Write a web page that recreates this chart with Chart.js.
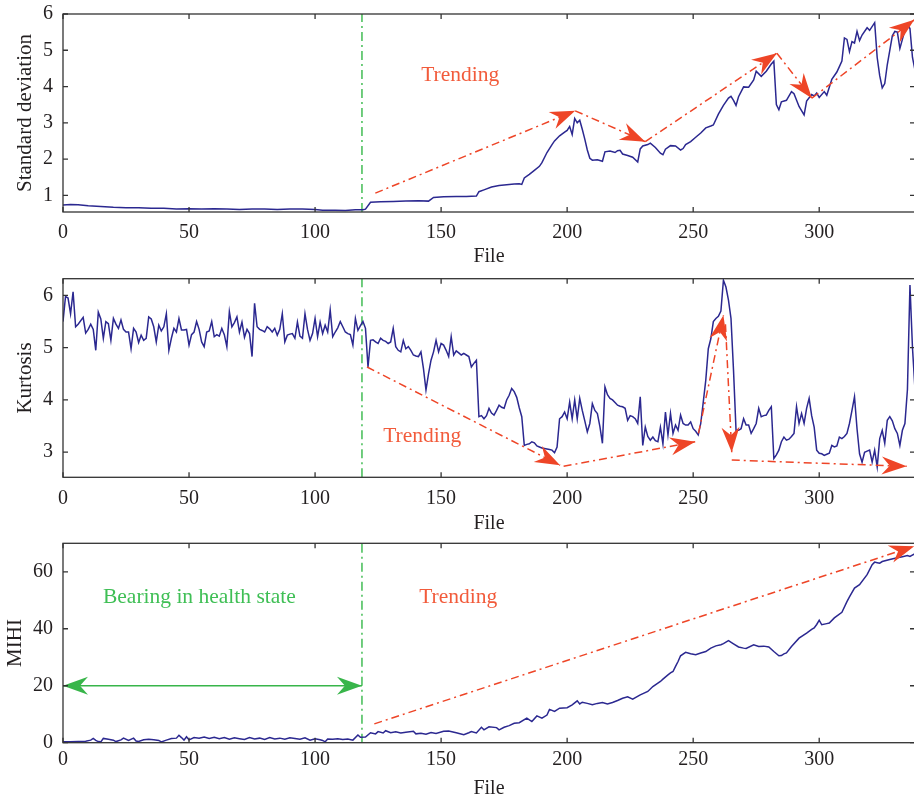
<!DOCTYPE html>
<html><head><meta charset="utf-8">
<script src="https://cdn.jsdelivr.net/npm/chart.js@4.4.1/dist/chart.umd.min.js"></script>
<style>
html,body{margin:0;padding:0;overflow:hidden;background:#fff;width:914px;height:806px;position:relative;}
canvas{position:absolute;left:0;}
</style></head><body>
<canvas id="c1" width="916" height="270" style="top:0px"></canvas>
<canvas id="c2" width="916" height="270" style="top:270px"></canvas>
<canvas id="c3" width="916" height="276" style="top:530px"></canvas>
<script>
// ---------------- data ----------------
const xTicks = [0, 50, 100, 150, 200, 250, 300];
const stdTicks = [1, 2, 3, 4, 5, 6];
const kurtTicks = [3, 4, 5, 6];
const mihiTicks = [0, 20, 40, 60];
const healthEnd = 118.6;

const stdFile = [0,3,6,10,15,20,25,30,35,40,45,50,55,60,65,70,75,80,85,90,95,100,103,108,112,116,119,120,122,126,131,136,141,145,147,151,156,160,164,165,167,170,173,176,179,181,182,183,185,187,189,190,192,194,195,197,199,200,201,202,203,204,205,206,207,208,209,210,212,214,215,217,219,220,221,222,224,226,228,229,230,232,233,235,237,238,239,241,243,245,246,247,249,251,253,255,257,258,260,262,264,265,266,267,268,270,272,274,275,277,279,281,282,283,284,285,287,289,290,292,294,295,297,298,299,300,302,303,305,307,308,309,310,311,312,313,314,315,316,317,319,320,322,323,324,325,326,327,328,329,330,331,332,333,334,335,336,337,338];
const stdValue = [0.73,0.75,0.74,0.71,0.69,0.67,0.66,0.66,0.64,0.64,0.62,0.63,0.62,0.63,0.62,0.61,0.62,0.62,0.61,0.62,0.62,0.61,0.59,0.59,0.58,0.60,0.60,0.62,0.81,0.82,0.83,0.84,0.85,0.84,0.94,0.96,0.97,0.97,0.98,1.10,1.15,1.23,1.27,1.29,1.31,1.32,1.30,1.48,1.58,1.69,1.80,1.90,2.18,2.40,2.50,2.64,2.74,2.79,2.90,2.68,3.12,3.00,3.07,2.82,2.55,2.25,2.02,1.97,1.98,1.94,2.20,2.22,2.18,2.23,2.24,2.14,2.10,2.05,1.92,2.28,2.36,2.40,2.44,2.32,2.16,2.12,2.27,2.37,2.36,2.25,2.29,2.40,2.48,2.60,2.72,2.86,2.91,2.94,3.24,3.48,3.68,3.73,3.62,3.48,3.72,3.99,3.98,4.18,4.42,4.28,4.42,4.62,4.70,3.50,3.36,3.58,3.62,3.86,3.80,3.45,3.22,3.60,3.78,3.74,3.82,3.70,3.86,3.76,4.20,4.40,4.55,4.70,5.34,5.30,4.96,5.24,5.20,5.52,5.27,5.42,5.62,5.55,5.76,4.80,4.30,3.96,4.08,4.60,5.00,5.40,5.52,5.50,5.05,5.30,5.55,5.72,5.60,4.80,4.45];

const kurtFile = [0,1,2,3,4,5,6,8,9,10,11,12,13,14,15,16,17,18,19,20,21,22,23,24,25,26,27,28,29,30,31,32,33,34,35,36,37,38,39,40,41,42,43,44,45,46,47,48,49,50,51,52,53,54,55,56,57,58,59,60,61,62,63,64,65,66,67,68,69,70,71,72,73,74,75,76,77,78,79,80,81,82,83,84,85,86,87,88,89,90,91,92,93,94,95,96,97,98,99,100,101,102,103,104,105,106,107,108,109,110,111,112,113,114,115,116,117,118,119,120,121,122,123,124,125,126,127,128,129,130,131,132,133,134,135,136,137,138,139,140,141,142,143,144,145,146,147,148,149,150,151,152,153,154,155,156,157,158,159,160,161,162,163,164,165,166,167,168,169,170,171,172,173,174,175,176,177,178,179,180,181,182,183,184,185,186,187,188,189,190,191,192,193,194,195,196,197,198,199,200,201,202,203,204,205,206,207,208,209,210,211,212,213,214,215,216,217,218,219,220,221,222,223,224,225,226,227,228,229,230,231,232,233,234,235,236,237,238,239,240,241,242,243,244,245,246,247,248,249,250,251,252,253,254,255,256,257,258,259,260,261,262,263,264,265,266,267,268,269,270,271,272,273,274,275,276,277,278,279,280,281,282,283,284,285,286,287,288,289,290,291,292,293,294,295,296,297,298,299,300,301,302,303,304,305,306,307,308,309,310,311,312,313,314,315,316,317,318,319,320,321,322,323,324,325,326,327,328,329,330,331,332,333,334,335,336,337,338];
const kurtValue = [5.5,5.98,5.95,5.65,6.07,5.4,5.45,5.58,5.28,5.35,5.45,5.35,4.95,5.68,5.55,5.18,5.5,5.46,5.14,5.56,5.45,5.37,5.53,5.35,5.3,5.3,4.98,5.37,5.3,5.1,5.24,5.14,5.18,5.59,5.55,5.4,5.11,5.43,5.32,5.4,5.65,4.95,5.18,5.37,5.3,5.56,5.34,5.34,5.35,5.05,5.25,5.3,5.5,5.35,5.11,5.02,5.3,5.32,5.5,5.21,5.25,5.22,5.37,5.25,5.02,5.69,5.4,5.48,5.59,5.3,5.49,5.2,5.35,5.27,4.83,5.85,5.4,5.35,5.33,5.3,5.4,5.36,5.3,5.37,5.24,5.35,5.65,5.11,5.24,5.26,5.27,5.18,5.49,5.22,5.18,5.65,5.35,5.14,5.27,5.56,5.21,5.49,5.27,5.43,5.3,5.72,5.21,5.3,5.38,5.5,5.4,5.3,5.27,5.25,5.05,5.56,5.33,5.42,5.5,5.37,4.63,5.14,5.15,5.11,5.08,5.18,5.14,5.12,5.08,5.11,5.37,5.02,4.95,4.92,5.14,4.98,5.02,4.95,4.86,4.84,4.83,4.92,4.6,4.19,4.5,4.76,4.92,5.14,4.92,5.08,5.05,4.95,4.83,5.21,4.86,4.94,4.9,4.86,4.89,4.86,4.83,4.63,4.7,4.76,3.68,3.7,3.64,3.7,3.84,3.75,3.71,3.8,3.9,3.86,3.84,4.0,4.09,4.22,4.16,4.05,3.85,3.68,3.13,3.15,3.16,3.2,3.18,3.12,3.1,3.08,3.07,3.06,3.05,3.04,2.99,3.1,3.64,3.68,3.77,3.64,3.96,3.64,4.0,3.64,4.03,3.8,3.6,3.39,3.55,3.93,3.8,3.74,3.49,3.17,4.25,4.1,4.03,4.0,3.95,3.9,3.88,3.87,3.84,3.61,3.7,3.68,3.64,3.55,4.06,3.13,3.48,3.3,3.23,3.29,3.22,3.2,3.48,3.16,3.77,3.33,3.74,3.36,3.52,3.42,3.71,3.55,3.52,3.52,3.58,3.45,3.4,3.33,3.55,3.96,4.38,4.98,5.17,5.5,5.56,5.6,5.7,6.29,6.16,5.91,5.56,4.57,3.42,3.42,3.45,3.64,3.52,3.52,3.36,3.45,3.55,3.84,3.68,3.7,3.71,3.8,3.87,2.88,2.95,3.04,3.2,3.29,3.23,3.25,3.3,3.36,3.87,3.55,3.74,3.55,3.84,4.03,3.7,3.48,3.04,2.98,2.97,2.94,2.96,2.98,3.13,3.1,3.12,3.29,3.26,3.3,3.36,3.55,3.8,4.06,3.45,2.97,2.81,3.0,3.02,3.04,2.81,3.04,2.72,3.26,3.42,3.17,3.61,3.68,3.6,3.45,3.36,3.13,3.42,3.55,4.2,6.2,5.0,4.2];

const mihiFile = [0,3,6,9,11,12,13,14,15,16,18,20,21,23,24,26,28,29,30,32,34,36,38,39,41,43,45,46,47,48,49,50,52,54,56,58,60,62,64,66,68,70,72,74,76,78,80,82,84,86,88,90,92,94,96,98,100,102,103,104,105,107,109,111,113,115,117,118,120,122,124,125,127,128,130,132,134,136,139,140,142,144,146,148,151,153,156,159,161,162,164,166,167,169,172,173,175,177,179,181,184,186,188,190,192,193,195,197,200,202,204,205,206,208,210,212,214,216,218,220,222,224,226,229,232,234,236,237,238,240,241,242,243,244,245,247,249,251,253,255,257,259,261,262,264,266,268,270,271,274,276,278,280,282,284,285,286,287,289,292,295,297,298,299,300,301,303,304,306,309,311,312,314,316,319,321,322,323,324,325,328,331,333,335,336,338];
const mihiValue = [0.35,0.3,0.4,0.5,0.9,1.5,0.8,0.4,0.3,1.5,1.2,0.9,0.4,1.0,1.6,0.8,1.6,0.6,0.4,1.0,1.2,1.0,0.8,0.3,0.9,1.5,1.6,2.6,1.8,0.9,2.1,1.0,1.8,1.6,2.0,1.5,1.9,1.4,1.8,1.2,1.7,1.4,1.1,1.8,1.3,1.6,1.1,1.8,1.3,1.6,1.2,1.7,1.5,1.2,1.7,0.9,1.4,1.0,0.8,0.3,1.3,1.2,1.4,1.1,1.3,0.9,2.7,1.9,2.0,3.5,3.1,3.9,3.4,4.2,3.5,3.8,3.4,3.7,4.0,3.1,3.3,3.0,3.6,3.2,4.0,4.1,3.5,2.8,3.5,3.9,3.4,5.4,4.5,5.6,5.3,4.5,5.4,6.0,6.8,7.0,8.6,7.4,9.4,8.6,9.7,11.7,11.0,12.1,12.3,13.3,14.7,13.6,14.2,13.8,13.3,13.8,14.1,13.6,14.1,14.8,15.6,16.1,15.3,16.8,18.0,19.7,20.9,21.5,22.3,23.8,24.5,25.0,26.8,28.5,30.5,31.7,31.2,30.9,31.5,32.0,33.2,34.0,34.4,34.8,35.8,34.7,33.6,33.2,33.1,34.4,33.8,33.9,33.6,32.0,30.5,30.6,31.2,31.5,33.8,36.7,38.5,39.8,40.3,41.5,43.0,41.4,41.8,42.0,43.8,45.8,49.5,51.2,54.3,55.5,59.0,62.5,63.4,63.2,63.0,63.6,64.3,64.9,65.3,65.7,65.4,66.4];

// arrows: [fromX, fromY, toX, toY]
const stdArrows = [[123.9,1.06,203.2,3.33],[203.2,3.33,231.0,2.48],[231.0,2.48,283.2,4.92],[283.2,4.92,297.1,3.68],[297.1,3.68,337.7,5.84]];
const kurtArrows = [[120.6,4.63,197.2,2.75],[198.6,2.73,250.8,3.2],[252.1,3.36,262.0,5.62],[262.8,5.45,265.3,3.0],[265.3,2.85,334.7,2.73]];
const mihiArrows = [[123.5,6.6,337.7,69.0]];
const healthArrow = [0, 20, healthEnd, 20];

// ---------------- styling ----------------
const FONT = "'Liberation Serif', 'Times New Roman', serif";
const TXT = '#231F20';
const BLUE = '#2B2890';
const RED = '#EE4527';
const RED_TXT = '#F25B3B';
const GREEN = '#38B54A';
const GREEN_V = '#58C468';
const GREEN_TXT = '#3FBF55';

function pairs(xs, ys) { return xs.map((x, i) => ({ x: x, y: ys[i] })); }

const framePlugin = {
  id: 'frame',
  afterDraw(chart) {
    const { ctx, chartArea: a } = chart;
    const x = chart.scales.x, y = chart.scales.y;
    ctx.save();
    ctx.strokeStyle = '#333';
    ctx.lineWidth = 1.3;
    ctx.strokeRect(a.left, a.top, a.right - a.left, a.bottom - a.top);
    ctx.beginPath();
    const L = 5;
    x.ticks.forEach(t => { const p = x.getPixelForValue(t.value);
      ctx.moveTo(p, a.bottom); ctx.lineTo(p, a.bottom - L);
      ctx.moveTo(p, a.top); ctx.lineTo(p, a.top + L); });
    y.ticks.forEach(t => { const p = y.getPixelForValue(t.value);
      ctx.moveTo(a.left, p); ctx.lineTo(a.left + L, p);
      ctx.moveTo(a.right, p); ctx.lineTo(a.right - L, p); });
    ctx.stroke();
    ctx.restore();
  }
};

const headPlugin = {
  id: 'heads',
  afterDatasetsDraw(chart, args, opts) {
    const { ctx } = chart;
    const x = chart.scales.x, y = chart.scales.y;
    (opts.items || []).forEach(h => {
      const tx = x.getPixelForValue(h.to[0]), ty = y.getPixelForValue(h.to[1]);
      const fx = x.getPixelForValue(h.from[0]), fy = y.getPixelForValue(h.from[1]);
      const ang = Math.atan2(ty - fy, tx - fx);
      const Lh = 25, W = 18, notch = 0.68;
      ctx.save();
      ctx.translate(tx, ty);
      ctx.rotate(ang);
      ctx.beginPath();
      ctx.moveTo(0, 0);
      ctx.lineTo(-Lh, W / 2);
      ctx.lineTo(-Lh * notch, 0);
      ctx.lineTo(-Lh, -W / 2);
      ctx.closePath();
      ctx.fillStyle = h.color;
      ctx.fill();
      ctx.restore();
    });
  }
};

const notePlugin = {
  id: 'notes',
  afterDatasetsDraw(chart, args, opts) {
    const { ctx } = chart;
    const x = chart.scales.x, y = chart.scales.y;
    (opts.items || []).forEach(n => {
      ctx.save();
      ctx.font = '21.5px ' + FONT;
      ctx.fillStyle = n.color;
      ctx.textAlign = 'center';
      ctx.textBaseline = 'middle';
      ctx.fillText(n.text, x.getPixelForValue(n.x), y.getPixelForValue(n.y));
      ctx.restore();
    });
  }
};

function arrowSets(list, color) {
  return list.map(a => ({
    data: [{ x: a[0], y: a[1] }, { x: a[2], y: a[3] }],
    borderColor: color, borderWidth: 1.5, borderDash: [8, 4, 2, 4],
    pointRadius: 0, order: 0, fill: false
  }));
}
function arrowHeads(list, color) {
  return list.map(a => ({ from: [a[0], a[1]], to: [a[2], a[3]], color: color }));
}
function healthLine(yMin, yMax) {
  return { data: [{ x: healthEnd, y: yMin }, { x: healthEnd, y: yMax }],
    borderColor: GREEN_V, borderWidth: 1.7, borderDash: [9, 4, 2, 4], pointRadius: 0, order: 2 };
}
function seriesSet(xs, ys) {
  return { data: pairs(xs, ys), borderColor: BLUE, borderWidth: 1.5, pointRadius: 0,
    tension: 0, order: 1, fill: false };
}

function makeChart(id, c) {
  return new Chart(document.getElementById(id), {
    type: 'line',
    data: { datasets: c.datasets },
    options: {
      responsive: false, animation: false, devicePixelRatio: 1,
      layout: { padding: { top: c.padTop, right: 1, left: 0, bottom: 0 } },
      plugins: { legend: { display: false }, tooltip: { enabled: false },
        heads: { items: c.heads }, notes: { items: c.notes } },
      scales: {
        x: {
          type: 'linear', min: 0, max: 338,
          grid: { display: false, drawTicks: false }, border: { display: false },
          afterBuildTicks: s => { s.ticks = xTicks.map(v => ({ value: v })); },
          afterFit: s => { s.height = c.xHeight; s.paddingLeft = 0; s.paddingRight = 0; },
          ticks: { padding: c.xTickPad, font: { family: FONT, size: 20 }, color: TXT, maxRotation: 0, autoSkip: false },
          title: { display: true, text: 'File', font: { family: FONT, size: 20 }, color: TXT,
            padding: { top: 0, bottom: c.xTitlePad } }
        },
        y: {
          type: 'linear', min: c.yMin, max: c.yMax,
          grid: { display: false, drawTicks: false }, border: { display: false },
          afterBuildTicks: s => { s.ticks = c.yTicks.map(v => ({ value: v })); },
          afterFit: s => { s.width = 63; s.paddingTop = 0; s.paddingBottom = 0; },
          ticks: { padding: 10, font: { family: FONT, size: 20 }, color: TXT, autoSkip: false },
          title: { display: true, text: c.yTitle, font: { family: FONT, size: 21 }, color: TXT,
            padding: { top: c.yTitlePad, bottom: 0 } }
        }
      }
    },
    plugins: [framePlugin, headPlugin, notePlugin]
  });
}

makeChart('c1', {
  padTop: 14, xHeight: 58, xTickPad: 9, xTitlePad: 1,
  yMin: 0.54, yMax: 6, yTicks: stdTicks, yTitle: 'Standard deviation', yTitlePad: 12.4,
  datasets: [seriesSet(stdFile, stdValue), healthLine(0.54, 6)].concat(arrowSets(stdArrows, RED)),
  heads: arrowHeads(stdArrows, RED),
  notes: [{ text: 'Trending', x: 157.6, y: 4.3, color: RED_TXT }]
});

makeChart('c2', {
  padTop: 8.7, xHeight: 62.7, xTickPad: 9, xTitlePad: 4.7,
  yMin: 2.52, yMax: 6.32, yTicks: kurtTicks, yTitle: 'Kurtosis', yTitlePad: 12.4,
  datasets: [seriesSet(kurtFile, kurtValue), healthLine(2.52, 6.32)].concat(arrowSets(kurtArrows, RED)),
  heads: arrowHeads(kurtArrows, RED),
  notes: [{ text: 'Trending', x: 142.5, y: 3.31, color: RED_TXT }]
});

const healthSet = { data: [{ x: healthArrow[0], y: healthArrow[1] }, { x: healthArrow[2], y: healthArrow[3] }],
  borderColor: GREEN, borderWidth: 1.7, pointRadius: 0, order: 0 };

makeChart('c3', {
  padTop: 13.3, xHeight: 63.3, xTickPad: 5, xTitlePad: 5.7,
  yMin: 0, yMax: 70, yTicks: mihiTicks, yTitle: 'MIHI', yTitlePad: 2.4,
  datasets: [seriesSet(mihiFile, mihiValue), healthLine(0, 70), healthSet].concat(arrowSets(mihiArrows, RED)),
  heads: arrowHeads(mihiArrows, RED).concat([
    { from: [healthArrow[2], healthArrow[3]], to: [healthArrow[0], healthArrow[1]], color: GREEN },
    { from: [healthArrow[0], healthArrow[1]], to: [healthArrow[2], healthArrow[3]], color: GREEN }
  ]),
  notes: [{ text: 'Trending', x: 156.8, y: 50.9, color: RED_TXT },
          { text: 'Bearing in health state', x: 54.1, y: 50.9, color: GREEN_TXT }]
});
</script>
</body></html>
